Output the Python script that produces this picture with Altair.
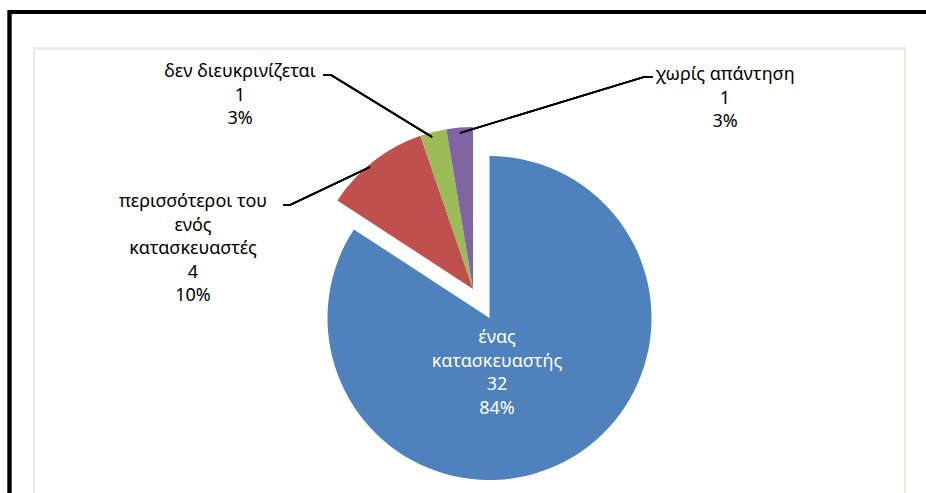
import altair as alt
import pandas as pd

# Survey answers: number of manufacturers
categories = ["ένας κατασκευαστής", "περισσότεροι του ενός κατασκευαστές",
              "δεν διευκρινίζεται", "χωρίς απάντηση"]
label_names = ["ένας\nκατασκευαστής", "περισσότεροι του\nενός\nκατασκευαστές",
               "δεν διευκρινίζεται", "χωρίς απάντηση"]
counts = [32, 4, 1, 1]
percent_labels = ["84%", "10%", "3%", "3%"]
colors = ["#4F81BD", "#C0504D", "#9BBB59", "#8064A2"]

total = sum(counts)
df = pd.DataFrame({
    "idx": list(range(len(categories))),
    "category": categories,
    "count": counts,
    "label": [f"{n}\n{c}\n{p}" for n, c, p in zip(label_names, counts, percent_labels)],
})

W, H = 926, 493
FONT = "Noto Sans"
R = 162

base = alt.Chart(df).transform_window(
    cum="sum(count)", sort=[alt.SortField("idx")], frame=[None, 0]
).transform_calculate(start="datum.cum - datum.count")

theta = alt.Theta("start:Q", scale=alt.Scale(domain=[0, total]), stack=None)
color = alt.Color("category:N", scale=alt.Scale(domain=categories, range=colors), legend=None)


def slices(cond, cx, cy):
    return base.transform_filter(cond).mark_arc(radius=R, stroke=None).encode(
        theta=theta, theta2="cum:Q", color=color,
        x=alt.value(cx), y=alt.value(cy),
    )


# main slice and the pulled-out group of the remaining answers
main_slice = slices("datum.idx == 0", 489.5, 318)
other_slices = slices("datum.idx > 0", 473, 289)


def label(i, cx, cy, fill="#000000"):
    # cy is the centre of the first text line
    return alt.Chart(df).transform_filter(f"datum.idx == {i}").mark_text(
        font=FONT, fontSize=18, lineBreak="\n", lineHeight=23.5,
        align="center", baseline="middle", color=fill,
    ).encode(text="label:N", x=alt.value(cx), y=alt.value(cy))


labels = [
    label(0, 497, 338, "#FFFFFF"),
    label(1, 193, 202),
    label(2, 240, 72),
    label(3, 725, 75),
]


def seg(x1, y1, x2, y2):
    return alt.Chart(df).mark_rule(color="#000000", strokeWidth=1.6).encode(
        x=alt.value(x1), y=alt.value(y1), x2=alt.value(x2), y2=alt.value(y2)
    )


leaders = [
    seg(323, 75, 331, 75), seg(331, 75, 432, 137),
    seg(644, 77, 653, 77), seg(644, 77, 460, 133),
    seg(283, 205, 290, 205), seg(290, 205, 370, 167),
]


def frame(x1, y1, x2, y2, stroke, sw):
    return alt.Chart(df).mark_rect(fill=None, stroke=stroke, strokeWidth=sw).encode(
        x=alt.value(x1), y=alt.value(y1), x2=alt.value(x2), y2=alt.value(y2)
    )


outer = frame(9.5, 12, 940, 520, "#000000", 3.5)
inner = frame(34, 48.5, 905, 520, "#ECEAE4", 2)

chart = alt.layer(
    outer, inner, main_slice, other_slices, *leaders, *labels
).properties(
    width=W, height=H, autosize=alt.AutoSizeParams(type="none"), padding=0,
    background="#FFFFFF",
).configure_view(stroke=None)

chart.save("out.html", embed_options={"renderer": "svg", "actions": False})
